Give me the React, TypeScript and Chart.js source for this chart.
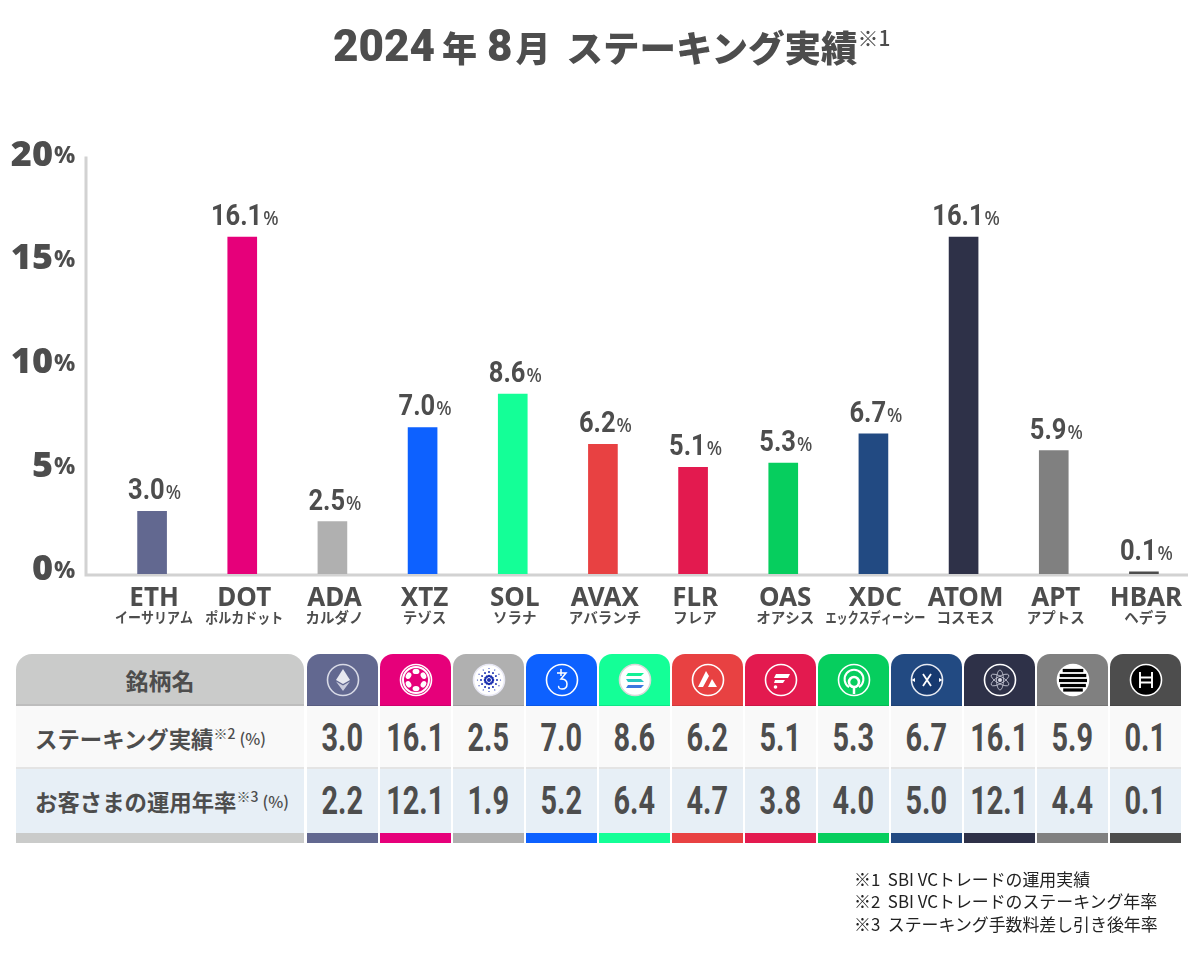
import React, { useEffect, useRef } from "react";
import { Chart, registerables } from "chart.js";

Chart.register(...registerables);

const symbols = ["ETH", "DOT", "ADA", "XTZ", "SOL", "AVAX", "FLR", "OAS", "XDC", "ATOM", "APT", "HBAR"];
const kanaNames = ["イーサリアム", "ポルカドット", "カルダノ", "テゾス", "ソラナ", "アバランチ", "フレア", "オアシス", "エックスディーシー", "コスモス", "アプトス", "ヘデラ"];
const stakingResults = [3.0, 16.1, 2.5, 7.0, 8.6, 6.2, 5.1, 5.3, 6.7, 16.1, 5.9, 0.1];
const customerRates = [2.2, 12.1, 1.9, 5.2, 6.4, 4.7, 3.8, 4.0, 5.0, 12.1, 4.4, 0.1];
const coinColors = ["#626890", "#E6007A", "#B0B0B0", "#0D61FF", "#14FF97", "#E84142", "#E31A4F", "#06CE5E", "#224A82", "#2E3148", "#808080", "#4D4D4D"];
const footnotes = ["※1  SBI VCトレードの運用実績", "※2  SBI VCトレードのステーキング年率", "※3  ステーキング手数料差し引き後年率"];

const INK = "#4D4D4D";
const JP = '"Noto Sans CJK JP", "Noto Sans", sans-serif';
const LATIN = '"Noto Sans", "Noto Sans CJK JP", sans-serif';

const chartDecor = {
  id: "chartDecor",
  beforeDatasetsDraw(chart: any) {
    const { ctx, scales } = chart;
    const y0 = scales.y.getPixelForValue(0);
    const yTop = scales.y.getPixelForValue(20);
    ctx.save();
    ctx.strokeStyle = "#D2D2D2";
    ctx.lineWidth = 3;
    ctx.beginPath();
    ctx.moveTo(86, yTop + 1);
    ctx.lineTo(86, y0 + 1);
    ctx.lineTo(1188, y0 + 1);
    ctx.stroke();
    ctx.restore();
  },
  afterDatasetsDraw(chart: any) {
    const { ctx, scales } = chart;
    ctx.save();
    ctx.fillStyle = INK;
    chart.getDatasetMeta(0).data.forEach((bar: any, i: number) => {
      const txt = stakingResults[i].toFixed(1);
      ctx.font = "700 29px Roboto, sans-serif";
      ctx.textAlign = "left";
      ctx.textBaseline = "alphabetic";
      const w = ctx.measureText(txt).width * 0.88;
      ctx.font = '500 20px "Noto Sans", sans-serif';
      const pw = ctx.measureText("%").width * 0.9;
      const left = bar.x - (w + pw) / 2 + 2;
      const base = bar.y - 12;
      ctx.font = "700 29px Roboto, sans-serif";
      ctx.fillText(txt, left, base, w);
      ctx.font = '500 20px "Noto Sans", sans-serif';
      ctx.fillText("%", left + w + 1, base, pw);
    });
    ctx.font = `800 23px ${LATIN}`;
    ctx.textAlign = "left";
    ctx.textBaseline = "alphabetic";
    scales.yLabels.ticks.forEach((t: any) => {
      ctx.fillText("%", 54, scales.yLabels.getPixelForValue(t.value) + 8, 22);
    });
    ctx.font = `700 14.5px ${JP}`;
    ctx.textAlign = "center";
    kanaNames.forEach((k, i) => {
      ctx.fillText(k, scales.x.getPixelForValue(i) + 2, 623, k.length > 6 ? 100 : 78);
    });
    ctx.restore();
  },
};

function Ring({ fill = "none", stroke = "#fff", children }: any) {
  return (
    <svg width="36" height="36" viewBox="-18 -18 36 36">
      <circle r="15.5" fill={fill} stroke={stroke} strokeWidth="1.6" />
      {children}
    </svg>
  );
}

function CoinIcon({ name, color }: { name: string; color: string }) {
  switch (name) {
    case "ETH":
      return (
        <Ring stroke="#D8DAE6">
          <path d="M0-11 7 0 0 4-7 0Z" fill="#E8E9F0" />
          <path d="M0 5.5 7 1.5 0 11-7 1.5Z" fill="#C9CBDC" />
        </Ring>
      );
    case "DOT":
      return (
        <Ring fill={color}>
          <circle r="13" fill="none" stroke="#fff" strokeWidth="2" />
          {[0, 60, 120, 180, 240, 300].map((a) => (
            <ellipse key={a} cx="0" cy="-8.6" rx="3.4" ry="2.6" fill="#fff" transform={`rotate(${a})`} />
          ))}
        </Ring>
      );
    case "ADA":
      return (
        <Ring fill="#fff" stroke="#E8E8F4">
          {[0, 30, 60, 90, 120, 150, 180, 210, 240, 270, 300, 330].map((a) => (
            <g key={a} transform={`rotate(${a})`}>
              <circle cy="-4" r="1.3" fill="#1A2FB0" />
              <circle cy="-8" r="1" fill="#1A2FB0" />
              <circle cy="-11.5" r="0.6" fill="#1A2FB0" />
            </g>
          ))}
          <circle r="2" fill="#1A2FB0" />
        </Ring>
      );
    case "XTZ":
      return (
        <Ring>
          <path d="M-5-7H4L-1-1C4-1 5 2 5 4 5 8 2 9 0 9-3 9-4 7-3 6M-1-11V-4" fill="none" stroke="#fff" strokeWidth="1.5" />
        </Ring>
      );
    case "SOL":
      return (
        <Ring fill="#fff" stroke="#D8D8D8">
          <path d="M-7-7H9L6-4H-9Z" fill="#14F195" />
          <path d="M-9-1H6L9 2H-7Z" fill="#25C8C0" />
          <path d="M-7 5H9L6 8H-9Z" fill="#3C78E0" />
        </Ring>
      );
    case "AVAX":
      return (
        <Ring>
          <path d="M-10 7-2-9 1-4-5 7ZM0 7 4-1 9 7Z" fill="#fff" />
        </Ring>
      );
    case "FLR":
      return (
        <Ring>
          <path d="M-5-6H9L7-2H-7ZM-6 0H4L2 3H-7Z" fill="#fff" />
          <circle cx="-5.5" cy="7" r="1.8" fill="#fff" />
        </Ring>
      );
    case "OAS":
      return (
        <Ring stroke="#fff">
          <path d="M-6 10A11.5 11.5 0 1 1 6 10" fill="none" stroke="#fff" strokeWidth="2.5" transform="translate(0,-1) scale(.82)" />
          <circle cy="2" r="5" fill="none" stroke="#fff" strokeWidth="2.6" />
          <path d="M0 7V14" stroke="#fff" strokeWidth="2.5" />
        </Ring>
      );
    case "XDC":
      return (
        <Ring fill="#173A70" stroke="#E6EAF2">
          <path d="M-4-6 4 6M4-6-4 6" stroke="#fff" strokeWidth="1.8" />
          <path d="M-15.5 0-12-2V2ZM15.5 0 12-2V2Z" fill="#fff" />
        </Ring>
      );
    case "ATOM":
      return (
        <Ring stroke="#fff">
          {[0, 60, 120].map((a) => (
            <ellipse key={a} rx="3.5" ry="10" fill="none" stroke="#C8C9D6" strokeWidth="0.8" transform={`rotate(${a})`} />
          ))}
          <circle r="2" fill="#D8D9E4" />
        </Ring>
      );
    case "APT":
      return (
        <Ring fill="#fff">
          {[-9.5, -4.5, 0.5, 5.5, 10].map((y) => (
            <rect key={y} x={-Math.sqrt(196 - y * y)} y={y - 1.6} width={2 * Math.sqrt(196 - y * y)} height="3.2" fill="#000" />
          ))}
        </Ring>
      );
    default:
      return (
        <Ring fill="#000">
          <path d="M-6-8V8M6-8V8M-6-2.5H6M-6 2.5H6" stroke="#fff" strokeWidth="1.9" fill="none" />
        </Ring>
      );
  }
}

const box = (left: number, top: number, width: number, height: number, background: string, extra: any = {}) => ({
  position: "absolute" as const,
  left,
  top,
  width,
  height,
  background,
  ...extra,
});

const COL_X = [307, 380, 453, 526, 599, 672, 745, 818, 891, 964, 1037, 1110];
const COL_W = 71;

function ValueCell({ value, top, height }: { value: number; top: number; height: number }) {
  return (
    <div style={{ position: "absolute", left: 0, top, width: COL_W, height, display: "flex", alignItems: "center", justifyContent: "center" }}>
      <span style={{ font: "700 38px Roboto, sans-serif", color: INK, transform: "scaleX(.76)", display: "inline-block", lineHeight: 1 }}>
        {value.toFixed(1)}
      </span>
    </div>
  );
}

function RowLabel({ top, height, main, note }: { top: number; height: number; main: string; note: string }) {
  return (
    <div style={{ position: "absolute", left: 35, top, height, display: "flex", alignItems: "center", whiteSpace: "nowrap", color: INK, fontFamily: JP, fontWeight: 700, fontSize: 22.4 }}>
      <span>{main}</span>
      <span style={{ fontSize: 14, position: "relative", top: -5, fontWeight: 500 }}>{note}</span>
      <span style={{ fontSize: 16, marginLeft: 4, fontWeight: 500 }}>(%)</span>
    </div>
  );
}

export default function App() {
  const ref = useRef<HTMLCanvasElement>(null);

  useEffect(() => {
    const chart = new Chart(ref.current as HTMLCanvasElement, {
      type: "bar",
      data: {
        labels: symbols,
        datasets: [{ data: stakingResults, backgroundColor: coinColors, barThickness: 29, borderWidth: 0 }],
      },
      plugins: [chartDecor],
      options: {
        animation: false,
        responsive: false,
        layout: { padding: { top: 155.4, right: 11, left: 0, bottom: 0 } },
        plugins: { legend: { display: false }, tooltip: { enabled: false } },
        scales: {
          x: {
            afterFit: (s: any) => { s.height = 387; },
            grid: { display: false, drawTicks: false },
            border: { display: false },
            ticks: {
              autoSkip: false,
              maxRotation: 0,
              padding: 9,
              labelOffset: 2,
              color: INK,
              font: { family: LATIN, weight: "bold", size: 26 },
            },
          },
          y: { min: 0, max: 20, display: false },
          yLabels: {
            position: "left",
            min: -0.19,
            max: 20,
            afterFit: (s: any) => { s.width = 107; },
            grid: { display: false, drawTicks: false },
            border: { display: false },
            ticks: {
              stepSize: 5,
              includeBounds: false,
              padding: 54,
              color: INK,
              font: { family: LATIN, weight: 900, size: 36 },
            },
          },
        },
      } as any,
    });
    return () => chart.destroy();
  }, []);

  return (
    <div style={{ position: "absolute", left: 0, top: 0, width: 1200, height: 961, overflow: "hidden", background: "#fff" }}>
      <canvas ref={ref} width={1200} height={961} style={{ position: "absolute", left: 0, top: 0 }} />

      <div style={{ position: "absolute", left: 333, top: 16, height: 60, display: "flex", alignItems: "center", whiteSpace: "nowrap", color: INK, fontFamily: "Roboto, sans-serif", fontWeight: 900, fontSize: 44 }}>
        <span>2024</span>
        <span style={{ fontSize: 35, fontFamily: JP, marginLeft: 7 }}>年</span>
        <span style={{ marginLeft: 10 }}>8</span>
        <span style={{ fontSize: 35, fontFamily: JP, marginLeft: 3 }}>月</span>
        <span style={{ fontSize: 36.5, fontFamily: JP, marginLeft: 16 }}>ステーキング実績</span>
        <span style={{ fontSize: 21, fontFamily: JP, fontWeight: 500, position: "relative", top: -9 }}>※1</span>
      </div>

      <div style={box(16, 654, 288, 52, "#CACBCA", { borderRadius: "16px 16px 0 0", display: "flex", alignItems: "center", justifyContent: "center", fontFamily: JP, fontWeight: 700, fontSize: 23, color: INK, boxShadow: "inset 0 -2px 0 #BDBDBD" })}>銘柄名</div>
      <div style={box(16, 706, 288, 63, "#F9F9F9", { boxShadow: "inset 0 -2px 0 #E4E4E4" })} />
      <div style={box(16, 769, 288, 64, "#E7EFF6")} />
      <div style={box(16, 833, 288, 10, "#CACBCA")} />
      <RowLabel top={706} height={63} main="ステーキング実績" note="※2" />
      <RowLabel top={769} height={64} main="お客さまの運用年率" note="※3" />

      {symbols.map((s, i) => (
        <div key={s} style={{ position: "absolute", left: COL_X[i], top: 0, width: COL_W, height: 0 }}>
          <div style={box(0, 654, COL_W, 52, coinColors[i], { borderRadius: "13px 13px 0 0", display: "flex", alignItems: "center", justifyContent: "center", boxShadow: "inset 0 -1px 0 rgba(0,0,0,.1)" })}>
            <CoinIcon name={s} color={coinColors[i]} />
          </div>
          <div style={box(0, 706, COL_W, 63, "#F9F9F9", { boxShadow: "inset 0 -2px 0 #E4E4E4" })} />
          <div style={box(0, 769, COL_W, 64, "#E7EFF6")} />
          <div style={box(0, 833, COL_W, 10, coinColors[i])} />
          <ValueCell value={stakingResults[i]} top={706} height={63} />
          <ValueCell value={customerRates[i]} top={769} height={64} />
        </div>
      ))}

      {footnotes.map((t, i) => (
        <div key={t} style={{ position: "absolute", left: 854, top: 868.5 + i * 22.5, fontFamily: JP, fontSize: 16.9, lineHeight: "20px", color: "#222", whiteSpace: "pre" }}>{t}</div>
      ))}
    </div>
  );
}
